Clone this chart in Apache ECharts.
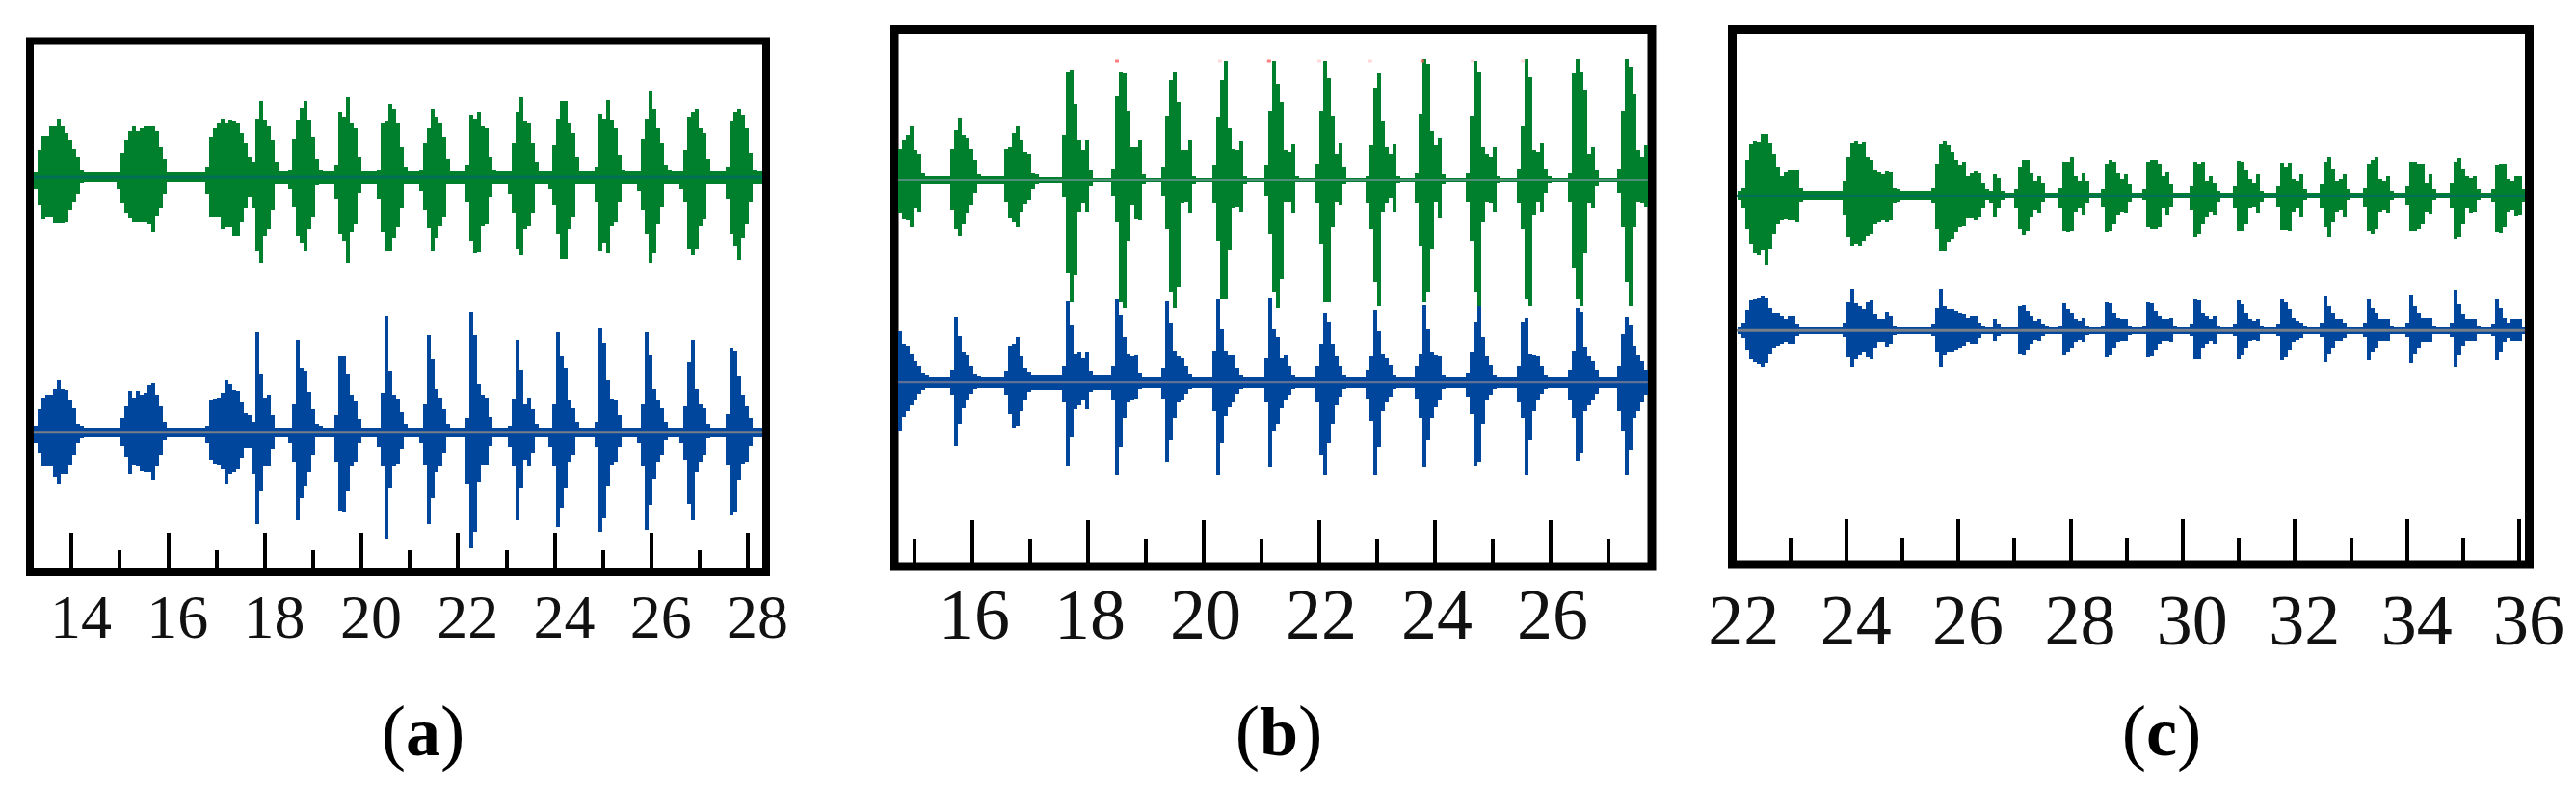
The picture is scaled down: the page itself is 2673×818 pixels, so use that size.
<!DOCTYPE html>
<html><head><meta charset="utf-8">
<style>html,body{margin:0;padding:0;background:#fff}#c{width:2673px;height:818px}</style>
<script src="https://cdn.jsdelivr.net/npm/echarts@6/dist/echarts.min.js"></script>
</head><body><div id="c"></div>
<script>
// ---- panel (a) ----
const aMajor=[14,16,18,20,22,24,26,28];
const aMinor=[15,17,19,21,23,25,27];
const aOnsets=[13.228,14.943,16.778,18.493,19.45,20.327,21.205,22.161,23.027,23.876,24.833,25.699,26.576,27.533];
const aStep=0.0798;
const aGreenIdle=[5,5,7,7,7,7,7,7,7,7,7,7,7,7];
const aBlueIdle=[5,5,5,5,5,5,5,5,5,5,5,5,5,5];
const aGreenUp=[[5,28,43,43,53,53,60,53,46,39,29,21,8],[5,25,39,48,53,48,51,53,53,53,48,31,19],[11,42,51,56,60,56,59,58,56,46,36,21,16,60,79,59,53,39,16],[8,40,59,72,79,59,42,19,8],[13,68,63,83,56,51,21],[8,56,58,76,71,56,31,11],[8,36,51,71,63,56,42,19],[13,65,60,68,53,51,21,8],[3,36,68,83,58,56,36,16],[5,33,60,79,79,56,46,21],[11,66,60,80,59,51,23,8],[3,40,60,90,71,51,36,13,8],[5,28,63,68,71,51,46,19],[11,58,68,71,65,51,25,8]];
const aGreenDown=[[12,29,43,41,41,48,48,48,46,34,26,17,6],[12,27,37,42,46,46,46,46,49,57,40,32,17],[17,41,41,41,54,52,52,61,61,46,32,20,32,77,89,61,54,34,6],[12,31,61,68,77,54,41,8,6],[23,59,66,89,57,49,16],[23,57,77,77,63,52,32,6],[14,34,53,77,63,51,41,6],[26,66,79,78,51,49,21,4],[17,37,74,81,54,51,37,4],[12,29,59,85,85,54,41,6],[26,77,68,79,51,46,26,6],[14,34,59,89,79,49,31,6,6],[12,26,74,81,74,51,43,6],[23,59,71,86,63,49,26,6]];
const aBlueUp=[[7,24,36,39,39,45,55,45,44,34,25,9,7],[5,15,28,43,36,43,39,41,49,51,39,28,11],[7,34,35,36,41,55,50,44,43,32,20,18,11,104,61,36,39,18,5],[5,30,96,67,64,42,24,9,7],[18,79,79,61,39,33,14],[5,41,121,64,39,35,21,9],[5,30,101,76,45,36,24,9],[15,125,101,50,39,36,16,5],[7,35,96,65,30,36,24,9],[5,30,104,79,67,34,25,11],[11,108,93,55,35,34,18,5],[5,30,104,81,45,34,25,11],[5,28,73,96,45,30,25,9],[19,88,85,59,39,28,15,5]];
const aBlueDown=[[11,21,35,35,35,46,53,43,43,34,23,11,6],[4,14,25,43,34,35,40,41,41,49,35,23,8],[11,28,33,34,38,53,43,41,38,26,16,16,43,95,61,35,35,17,5],[11,31,91,68,55,41,23,5,4],[31,81,83,61,35,31,11],[15,35,111,58,35,33,17,5],[11,34,95,68,41,35,21,5],[53,120,103,51,34,34,14,5],[15,35,91,58,28,35,21,5],[15,35,98,78,58,31,23,5],[15,103,89,55,34,31,15,4],[11,35,101,75,48,31,23,8],[11,28,74,91,41,31,23,6],[34,86,83,49,33,31,14,5]];
// ---- panel (b) ----
const bMajor=[16,18,20,22,24,26];
const bMinor=[15,17,19,21,23,25,27];
const bOnsets=[14.712,15.617,16.55,17.545,18.395,19.267,20.145,21.045,21.933,22.795,23.65,24.528,25.417,26.295,27.15];
const bStep=0.0667;
const bGreenIdle=[4,4,3,2,2,2,2,2,2,2,2,2,2,2,2];
const bBlueIdle=[6,6,8,8,6,6,6,6,6,6,6,6,6,6,6];
const bSpecksStrong=[18.5,21.13,23.78];
const bSpecksFaint=[20.28,22.0,22.88,24.65,25.52];
const bGreenUp=[[32,42,47,56,31,27,7],[32,52,64,47,44,32,21,6],[32,34,49,56,42,29,27,7,6],[47,112,114,79,42,31,42,11],[12,87,112,111,72,34,34,42,6],[14,67,104,112,81,31,31,42,4],[16,66,104,124,54,32,31,41,4],[16,72,124,100,81,31,29,38,4],[17,72,124,106,67,27,39,14],[4,36,96,111,61,34,27,37,4],[7,69,126,121,51,36,44,6],[7,67,124,112,34,27,24,34,4],[12,56,126,107,31,29,39,12,4],[7,111,126,112,94,27,34,11],[12,72,126,117,89,31,24,36]];
const bGreenDown=[[34,40,41,49,29,33,3],[31,51,58,46,34,26,13,4],[23,39,43,49,33,25,21,9,4],[18,96,126,98,33,24,33,6],[16,43,126,133,63,26,40,41,4],[16,51,116,133,111,24,23,34,4],[24,63,123,123,73,29,28,33,4],[16,56,116,133,103,23,23,34,1],[24,66,126,126,49,23,26,4],[24,51,106,131,33,24,19,33,3],[24,68,126,116,71,23,39,4],[23,63,116,131,43,23,24,33,3],[24,51,123,131,36,23,33,13,3],[23,91,123,131,76,24,29,6],[13,49,106,131,49,23,24,28]];
const bBlueUp=[[53,40,38,30,22,17,10,8],[13,68,48,32,28,17,9,7],[12,38,40,47,27,15,11,7],[17,85,60,30,32,25,32,12],[17,87,70,47,30,27,28,10],[15,85,62,33,27,25,17,9],[33,87,55,33,28,28,15,8],[25,88,55,47,25,28,17,8],[17,40,72,63,40,27,17,8],[13,27,75,53,30,25,18,8],[17,30,80,55,32,28,27,8],[10,32,63,80,47,27,18,8],[17,63,67,30,28,27,17,8],[13,33,77,73,37,27,22,13],[17,50,68,60,38,28,22,13]];
const bBlueDown=[[50,36,30,23,18,12,8,6],[13,66,43,27,18,12,7,6],[13,33,47,45,30,18,10,5],[20,87,57,28,23,18,28,10],[18,96,67,37,20,18,17,7],[17,83,60,37,20,18,12,7],[30,96,63,35,25,20,12,7],[20,88,50,43,27,18,13,7],[20,75,96,63,43,23,15,7],[17,40,96,67,30,20,15,7],[17,37,88,60,37,25,18,7],[15,33,87,83,43,18,13,7],[20,37,96,60,30,18,12,7],[18,37,82,73,30,23,18,12],[30,50,96,70,37,30,20,13]];
// ---- panel (c) ----
const cMajor=[22,24,26,28,30,32,34,36];
const cMinor=[23,25,27,29,31,33,35];
const cOnsets=[22.072,23.94,25.52,27.0,27.79,28.545,29.283,30.12,30.893,31.667,32.445,33.213,33.974,34.76,35.503];
const cStep=0.0687;
const cGreenIdle=[5,5,3,3,3,3,3,3,3,3,3,3,3,3,3];
const cBlueIdle=[4,4,4,4,4,4,4,4,4,4,4,4,4,4,4];
const cGreenUp=[[5,8,37,53,57,56,64,64,55,43,30,20,24,27,27,27,8],[15,40,55,57,53,56,40,37,27,24,22,25,24,8,7],[8,33,53,57,52,45,37,32,35,20,23,25,23,13,7,5,22,18,5],[7,30,37,37,23,15,20,13,3],[8,35,35,40,20,15,23,15,3],[7,33,37,35,23,17,22,12,3],[7,35,37,37,33,20,24,12,3],[10,35,33,35,15,20,13,5],[10,36,35,27,17,13,22,5],[10,34,30,34,17,15,22,7],[12,35,40,28,15,17,22,7],[8,33,37,40,17,15,20,5],[10,35,35,33,33,13,22,7],[13,35,39,28,20,18,20,7],[7,32,33,33,17,15,20,20,7]];
const cGreenDown=[[5,13,35,50,60,62,57,72,55,40,30,25,24,25,25,27,7],[20,43,52,50,52,47,42,40,30,27,25,27,25,8,7],[8,35,58,58,48,45,38,33,32,23,23,25,22,13,5,8,22,13,5],[13,35,41,37,22,15,18,7,2],[13,37,38,37,17,13,20,8,2],[12,38,37,30,20,17,18,7,2],[5,33,35,35,33,13,20,12,2],[15,43,40,30,22,17,20,7],[13,37,37,30,13,12,18,7],[12,36,36,37,17,13,22,5],[13,33,43,27,17,15,22,5],[12,37,40,35,17,15,18,5],[10,37,37,35,30,17,19,5],[13,45,43,30,13,18,17,5],[7,38,39,33,17,15,21,20,7]];
const cBlueUp=[[3,8,21,32,33,34,36,34,23,18,18,15,12,15,15,7,4],[8,30,43,28,25,22,30,32,17,12,12,19,15,5,4],[7,23,43,25,22,22,20,18,17,13,15,15,8,5,4,3,12,7,4],[4,25,26,20,15,10,12,7,5],[5,28,22,18,12,10,13,5,4],[5,30,28,18,13,12,12,5,4],[5,30,28,20,15,12,12,13,5],[7,33,32,18,15,12,15,5],[7,32,27,18,12,10,12,5],[7,33,30,22,13,10,8,5],[8,36,25,18,12,12,8,4],[8,33,23,18,12,12,12,5],[8,37,25,18,13,13,13,5],[8,42,27,17,12,12,12,5],[7,33,23,13,8,12,12,12,4]];
const cBlueDown=[[3,8,20,30,33,35,38,34,24,18,16,14,12,14,14,6,3],[7,28,38,30,26,22,28,30,18,12,12,17,14,5,3],[6,22,38,26,22,22,20,18,16,12,14,14,8,4,3,3,11,6,3],[3,24,26,20,14,10,11,6,4],[4,26,22,18,12,10,12,5,3],[4,28,26,18,12,11,11,5,3],[4,28,27,20,14,11,11,12,4],[6,30,30,18,14,11,14,4],[6,30,26,18,11,10,11,4],[6,31,28,20,12,10,8,4],[7,33,24,18,11,11,8,3],[7,31,22,18,11,11,11,4],[7,34,24,18,12,12,12,4],[7,38,26,16,11,11,11,4],[6,31,22,12,8,11,11,11,3]];
// ---- layout of the three panels ----
const panels=[
 {m:aMajor,n:aMinor,on:aOnsets,st:aStep,gi:aGreenIdle,bi:aBlueIdle,gu:aGreenUp,gd:aGreenDown,bu:aBlueUp,bd:aBlueDown,
  left:31,right:795,top:42.5,bottom:594,xmin:13.143,xmax:28.377,gb:410,bb:145.3,maj:41,min:23,fs:64,pad:20,mg:19,bw:8,in0:13.22,in1:28.3,sc:'a',sx:434},
 {m:bMajor,n:bMinor,on:bOnsets,st:bStep,gi:bGreenIdle,bi:bBlueIdle,gu:bGreenUp,gd:bGreenDown,bu:bBlueUp,bd:bBlueDown,
  left:928,right:1714,top:30.5,bottom:588,xmin:14.65,xmax:27.75,gb:401,bb:191.3,maj:48,min:28,fs:74,pad:4,mg:19,bw:9,in0:14.72,in1:27.68,sc:'b',sx:1322},
 {m:cMajor,n:cMinor,on:cOnsets,st:cStep,gi:cGreenIdle,bi:cBlueIdle,gu:cGreenUp,gd:cGreenDown,bu:cBlueUp,bd:cBlueDown,
  left:1797.5,right:2624.5,top:30.5,bottom:586,xmin:21.97,xmax:36.18,gb:382.7,bb:242.7,maj:47,min:27,fs:74,pad:20,mg:27,bw:9,in0:22.05,in1:36.1,sc:'c',sx:2238}
];
const GREEN='#00802c',BLUE='#00469c';
function rects(p,idle,up,down,base){
  const out=[];
  p.on.forEach((t,i)=>{
    const end=i+1<p.on.length?p.on[i+1]:p.in1;
    out.push([t,end,base-idle[i],base+idle[i]]);
  });
  p.on.forEach((t,i)=>{
    up[i].forEach((u,k)=>{
      const t1=Math.min(t+(k+1)*p.st,p.in1);
      out.push([t+k*p.st,t1,base-down[i][k],base+u]);
    });
  });
  return out;
}
function renderRect(color){
  return function(params,api){
    const a=api.coord([api.value(0),api.value(3)]);
    const b=api.coord([api.value(1),api.value(2)]);
    const x=Math.round(a[0]),y=Math.round(a[1]);
    return {type:'rect',shape:{x:x,y:y,width:Math.max(1,Math.round(b[0])-x),height:Math.max(1,Math.round(b[1])-y)},style:{fill:color}};
  };
}
const grid=[],xAxis=[],yAxis=[],series=[],title=[];
panels.forEach((p,i)=>{
  grid.push({left:p.left,width:p.right-p.left,top:p.top,height:p.bottom-p.top,show:true,backgroundColor:'#fff',borderColor:'#000',borderWidth:p.bw,containLabel:false});
  const common={type:'value',gridIndex:i,min:p.xmin,max:p.xmax,position:'bottom',splitLine:{show:false},axisLine:{show:false}};
  xAxis.push(Object.assign({},common,{
    axisTick:{show:true,inside:true,length:p.maj,customValues:p.m,lineStyle:{color:'#000',width:4}},
    axisLabel:{show:true,customValues:p.m,margin:p.mg,hideOverlap:false,showMinLabel:true,showMaxLabel:true,fontFamily:'Liberation Serif',fontSize:p.fs,color:'#111',padding:[0,0,0,p.pad]}
  }));
  xAxis.push(Object.assign({},common,{
    axisTick:{show:true,inside:true,length:p.min,customValues:p.n,lineStyle:{color:'#000',width:4}},
    axisLabel:{show:false}
  }));
  yAxis.push({type:'value',gridIndex:i,min:0,max:p.bottom-p.top,show:false});
  const xi=2*i;
  series.push({type:'custom',name:p.sc+' blue',xAxisIndex:xi,yAxisIndex:i,data:rects(p,p.bi,p.bu,p.bd,p.bb),encode:{x:[0,1],y:[2,3]},renderItem:renderRect(BLUE),silent:true,animation:false,z:2});
  series.push({type:'custom',name:p.sc+' green',xAxisIndex:xi,yAxisIndex:i,data:rects(p,p.gi,p.gu,p.gd,p.gb),encode:{x:[0,1],y:[2,3]},renderItem:renderRect(GREEN),silent:true,animation:false,z:3});
  series.push({type:'line',xAxisIndex:xi,yAxisIndex:i,data:[[p.in0,p.gb],[p.in1,p.gb]],showSymbol:false,silent:true,animation:false,z:4,lineStyle:{color:i==1?'#4f8f78':'#006f55',width:i==1?2:3}});
  series.push({type:'line',xAxisIndex:xi,yAxisIndex:i,data:[[p.in0,p.bb],[p.in1,p.bb]],showSymbol:false,silent:true,animation:false,z:4,lineStyle:{color:i==1?'#5f6f95':'#777f88',width:3}});
  title.push({text:'{p|(}{b|'+p.sc+'}{p|)}',left:p.sx,top:722,textAlign:'center',textStyle:{fontWeight:'normal',rich:{p:{fontFamily:'Liberation Serif',fontSize:76,fontWeight:'normal',color:'#000'},b:{fontFamily:'Liberation Serif',fontSize:72,fontWeight:'bold',color:'#000'}}}});
});
series.push({type:'scatter',xAxisIndex:2,yAxisIndex:1,data:bSpecksStrong.map(t=>[t,525]),symbol:'rect',symbolSize:[4,3],silent:true,animation:false,itemStyle:{color:'#ff5c5c'},z:5});
series.push({type:'scatter',xAxisIndex:2,yAxisIndex:1,data:bSpecksFaint.map(t=>[t,525]),symbol:'rect',symbolSize:[4,3],silent:true,animation:false,itemStyle:{color:'#ffd0d0'},z:5});
const chart=echarts.init(document.getElementById('c'),null,{renderer:'canvas'});
chart.setOption({animation:false,backgroundColor:'#fff',title,grid,xAxis,yAxis,series,tooltip:{show:false}});
</script></body></html>
